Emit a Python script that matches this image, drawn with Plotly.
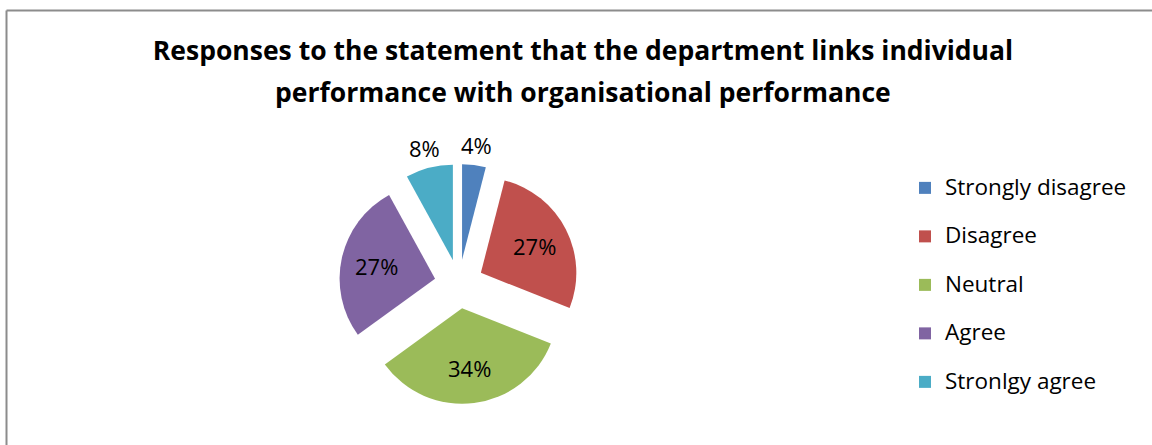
import math
import plotly.graph_objects as go

# Survey responses (percent of respondents)
categories = ["Strongly disagree", "Disagree", "Neutral", "Agree", "Stronlgy agree"]
shares = [4, 27, 34, 27, 8]
colors = ["#4F81BD", "#C0504D", "#9BBB59", "#8064A2", "#4BACC6"]
label_positions = ["outside", "inside", "inside", "inside", "outside"]

title_lines = [
    "Responses to the statement that the department links individual",
    "performance with organisational performance",
]

W, H = 1152, 445
FONT = "Open Sans, Calibri, Carlito, sans-serif"

# Pie placement (pixels) and explosion
PIE_X0, PIE_X1 = 339, 579
PIE_TOP, PIE_BOTTOM = 164, 404
PULL = 0.257

# Legend entries carry a blank second line so the entries are spaced out
legend_labels = [
    f"<span style='font-size:22.5px'>{c}</span><br> " for c in categories
]

fig = go.Figure(
    go.Pie(
        labels=legend_labels,
        values=shares,
        sort=False,
        direction="clockwise",
        rotation=0,
        pull=PULL,
        marker=dict(colors=colors, line=dict(width=0)),
        textinfo="none",
        domain=dict(x=[PIE_X0 / W, PIE_X1 / W],
                    y=[1 - PIE_BOTTOM / H, 1 - PIE_TOP / H]),
        hovertemplate="%{value}%<extra></extra>",
    )
)

# Percentage labels, placed along each slice's mid-angle
cx = (PIE_X0 + PIE_X1) / 2
cy = (PIE_TOP + PIE_BOTTOM) / 2
radius = (PIE_X1 - PIE_X0) / 2 / (1 + PULL)
total = sum(shares)
label_annotations = []
cum = 0
for share, where in zip(shares, label_positions):
    mid = math.radians((cum + share / 2) / total * 360)
    cum += share
    dist = 1.47 * radius if where == "outside" else (PULL + 0.63) * radius
    px = cx + dist * math.sin(mid)
    py = cy - dist * math.cos(mid)
    label_annotations.append(dict(
        text=f"{round(share / total * 100)}%",
        xref="paper", yref="paper",
        x=px / W, y=1 - py / H,
        xanchor="center", yanchor="middle",
        showarrow=False,
        font=dict(family=FONT, size=22, color="black"),
    ))

fig.update_layout(
    width=W,
    height=H,
    margin=dict(l=0, r=0, t=0, b=0, autoexpand=False),
    paper_bgcolor="white",
    plot_bgcolor="white",
    font=dict(family=FONT, color="black"),
    title=dict(
        text=f"<b>{title_lines[0]}</b>",
        x=583 / W,
        xanchor="center",
        y=1 - 51 / H,
        yanchor="middle",
        font=dict(family=FONT, size=26.5, color="black"),
    ),
    annotations=[
        dict(
            text=f"<b>{title_lines[1]}</b>",
            xref="paper", yref="paper",
            x=583 / W, xanchor="center",
            y=1 - 92 / H, yanchor="middle",
            showarrow=False,
            font=dict(family=FONT, size=26.5, color="black"),
        )
    ] + label_annotations,
    legend=dict(
        x=905 / W,
        xanchor="left",
        y=1 - 170 / H,
        yanchor="top",
        valign="top",
        font=dict(family=FONT, size=17.5, color="black"),
        bgcolor="rgba(0,0,0,0)",
        borderwidth=0,
    ),
    shapes=[
        # chart frame (top and left edges)
        dict(type="line", xref="paper", yref="paper",
             x0=6.5 / W, x1=1.0, y0=1 - 10.5 / H, y1=1 - 10.5 / H,
             line=dict(color="#8C8C8C", width=2)),
        dict(type="line", xref="paper", yref="paper",
             x0=6.5 / W, x1=6.5 / W, y0=0, y1=1 - 10.5 / H,
             line=dict(color="#8C8C8C", width=2)),
    ],
)

fig.write_html("out.html")
